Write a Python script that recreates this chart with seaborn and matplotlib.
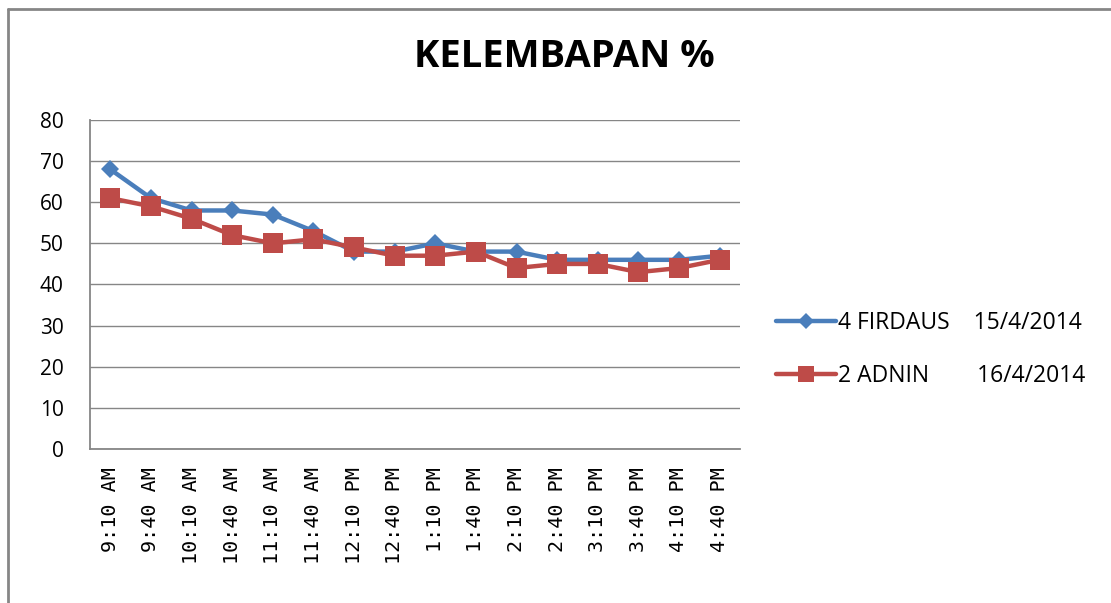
import numpy as np
import pandas as pd
import matplotlib
matplotlib.use("Agg")
import matplotlib.pyplot as plt
import seaborn as sns
from matplotlib.lines import Line2D

times = ['9:10 AM', '9:40 AM', '10:10 AM', '10:40 AM', '11:10 AM', '11:40 AM',
         '12:10 PM', '12:40 PM', '1:10 PM', '1:40 PM', '2:10 PM', '2:40 PM',
         '3:10 PM', '3:40 PM', '4:10 PM', '4:40 PM']
firdaus = [68, 61, 58, 58, 57, 53, 48, 48, 50, 48, 48, 46, 46, 46, 46, 47]
adnin = [61, 59, 56, 52, 50, 51, 49, 47, 47, 48, 44, 45, 45, 43, 44, 46]
series_names = ['4 FIRDAUS    15/4/2014', '2 ADNIN        16/4/2014']

df = pd.DataFrame({
    'pos': list(range(len(times))) * 2,
    'value': firdaus + adnin,
    'series': [series_names[0]] * len(times) + [series_names[1]] * len(times),
})

sns.set_style('white')
plt.rcParams['font.family'] = ['Open Sans', 'DejaVu Sans']
plt.rcParams['text.color'] = 'black'
plt.rcParams['xtick.color'] = 'black'
plt.rcParams['ytick.color'] = 'black'

fig = plt.figure(figsize=(11.11, 6.03), dpi=100)
ax = fig.add_axes([0.081, 0.2554, 0.585, 0.5456])

palette = {series_names[0]: '#4A7EBB', series_names[1]: '#BE4B48'}
sns.lineplot(data=df, x='pos', y='value', hue='series', style='series',
             markers={series_names[0]: 'D', series_names[1]: 's'},
             dashes=False, palette=palette, linewidth=3.2, ax=ax, legend=False)
for line, ms in zip(ax.get_lines(), [9, 15]):
    line.set_markersize(ms)
    line.set_markeredgewidth(0)

ax.set_xlim(-0.5, len(times) - 0.5)
ax.set_ylim(0, 80)
ax.set_yticks(range(0, 81, 10))
ax.set_xticks(range(len(times)))
ax.set_xticklabels(times, rotation=90, fontsize=14.5, family='DejaVu Sans Mono')
ax.set_xticks(np.arange(-0.5, len(times), 1), minor=True)
ax.tick_params(axis='x', which='major', length=0, pad=13)
ax.tick_params(axis='x', which='minor', length=7, color='#868686', width=1, direction='out')
ax.tick_params(axis='y', length=7, color='#868686', width=1, direction='out',
               labelsize=15, pad=12, labelcolor='black')
ax.grid(axis='y', color='#868686', linewidth=1)
ax.set_xlabel('')
ax.set_ylabel('')
for side in ['top', 'right']:
    ax.spines[side].set_visible(False)
for side in ['left', 'bottom']:
    ax.spines[side].set_color('#868686')
    ax.spines[side].set_linewidth(1.3)

fig.text(0.508, 0.905, 'KELEMBAPAN %', ha='center', va='center',
         fontsize=27.5, fontweight='bold')

# legend
handles = [Line2D([], [], color='#4A7EBB', marker='D', markersize=8, linewidth=3.2, markeredgewidth=0),
           Line2D([], [], color='#BE4B48', marker='s', markersize=12, linewidth=3.2, markeredgewidth=0)]
fig.legend(handles, series_names, loc='center left', bbox_to_anchor=(0.68, 0.42),
           frameon=False, fontsize=16.5, handlelength=2.6, labelspacing=1.25, handletextpad=0.1)

# chart frame (top and left edges)
fig.add_artist(Line2D([0.0072, 1.0], [0.985, 0.985], transform=fig.transFigure,
                      color='#868686', linewidth=2))
fig.add_artist(Line2D([0.0072, 0.0072], [0.0, 0.985], transform=fig.transFigure,
                      color='#868686', linewidth=2))

fig.savefig('out.png', dpi=100)
